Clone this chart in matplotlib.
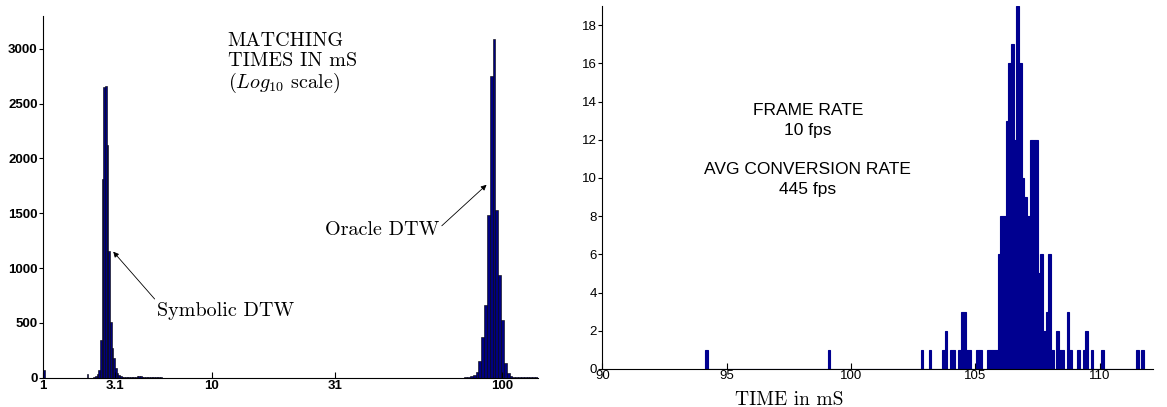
import numpy as np
import matplotlib
matplotlib.use('Agg')
import matplotlib.pyplot as plt

# ---- left panel: matching time histograms (counts per bin) ----
# symbolic DTW, bins spread evenly on the plotted axis between these times (mS)
sym_range = (1.0, 5.79)
sym_counts = [70, 0, 0, 0, 0, 0, 0, 0, 0, 0,
              0, 0, 0, 0, 0, 0, 0, 0, 0, 0,
              0, 0, 0, 0, 0, 0, 30, 0, 0, 0,
              10, 20, 30, 70, 344, 1815, 2650, 2664, 2125, 1160,
              512, 268, 177, 85, 40, 25, 15, 10,
              8, 6, 5, 5, 4, 4, 5, 8, 12, 15, 12, 8, 6, 5, 4, 4, 3, 3, 3, 2, 2, 2, 2, 1]
# oracle DTW
ora_range = (78.9, 124.1)
ora_counts = [5, 10, 15, 24, 55, 152, 375, 664, 1486, 2756, 3091, 1526, 938, 527,
              131, 40, 15, 10, 8, 6, 5, 4, 3, 3, 2, 2]
left_ticks = [1, 3.1, 10, 31, 100]
left_ticklabels = ['1', '3.1', '10', '31', '100']

# ---- right panel: frame conversion time histogram ----
rate_first = 94.2     # centre of first bin (mS)
rate_width = 0.1068   # bin width (mS)
rate_nonzero = {0: 1, 46: 1, 81: 1, 84: 1, 89: 1, 90: 2, 92: 1, 93: 1, 95: 1,
                96: 3, 97: 3, 98: 1, 99: 1, 102: 1, 103: 1, 106: 1, 107: 1,
                108: 1, 109: 1, 110: 6, 111: 8, 112: 8, 113: 13, 114: 16,
                115: 17, 116: 12, 117: 19, 118: 16, 119: 10, 120: 9, 121: 8,
                122: 12, 123: 12, 124: 12, 125: 5, 126: 6, 127: 2, 128: 3,
                129: 6, 130: 1, 132: 2, 133: 1, 134: 1, 136: 3, 137: 1,
                140: 1, 142: 1, 143: 2, 145: 1, 149: 1, 162: 1, 164: 1}
rate_nbins = 165

POW = 0.235


def fwd(t):
    return np.power(np.clip(t, 1e-9, None), POW)


def inv(u):
    return np.power(np.clip(u, 1e-9, None), 1.0 / POW)


def even_edges(lo, hi, n):
    return inv(np.linspace(fwd(lo), fwd(hi), n + 1))


fig = plt.figure(figsize=(11.67, 4.07), dpi=100)
tick_font = ['Liberation Sans', 'DejaVu Sans']
plt.rcParams['mathtext.fontset'] = 'cm'

# left panel
ax1 = fig.add_axes([0.0371, 0.072, 0.4239, 0.8887])
ax1.set_xscale('function', functions=(fwd, inv))
for rng, cnt in [(sym_range, sym_counts), (ora_range, ora_counts)]:
    edges = even_edges(rng[0], rng[1], len(cnt))
    ax1.bar(edges[:-1], cnt, width=np.diff(edges), align='edge',
            color='#000080', edgecolor='black', linewidth=0.4)
ax1.set_xlim(1, 124.2)
ax1.set_ylim(0, 3300)
ax1.set_xticks(left_ticks)
ax1.set_xticklabels(left_ticklabels)
ax1.set_yticks(range(0, 3001, 500))
ax1.xaxis.set_minor_locator(matplotlib.ticker.NullLocator())
for lab in ax1.get_xticklabels() + ax1.get_yticklabels():
    lab.set_fontfamily(tick_font)
    lab.set_fontweight('bold')
    lab.set_fontsize(9.5)
ax1.tick_params(axis='x', direction='in', length=4, pad=2)
ax1.tick_params(axis='y', direction='out', length=3, pad=1)
ax1.spines['top'].set_visible(False)
ax1.spines['right'].set_visible(False)

serif = dict(fontfamily='cmr10', fontsize=14.5)
ax1.text(0.373, 0.955, 'MATCHING\nTIMES IN mS\n($Log_{10}$ scale)',
         transform=ax1.transAxes, ha='left', va='top', linespacing=1.1, **serif)
ax1.annotate('Symbolic DTW', xy=(3.03, 1150), xytext=(0.23, 0.185),
             textcoords='axes fraction', ha='left', va='center',
             arrowprops=dict(arrowstyle='-|>', color='black', lw=0.6,
                             mutation_scale=8, relpos=(0, 1), shrinkA=0, shrinkB=0),
             **serif)
ax1.annotate('Oracle DTW', xy=(91, 1760), xytext=(0.569, 0.408),
             textcoords='axes fraction', ha='left', va='center',
             arrowprops=dict(arrowstyle='-|>', color='black', lw=0.6,
                             mutation_scale=8, relpos=(1, 0.6), shrinkA=0, shrinkB=0),
             **serif)

# right panel
rate_counts = np.zeros(rate_nbins)
for k, v in rate_nonzero.items():
    rate_counts[k] = v
rate_centres = rate_first + rate_width * np.arange(rate_nbins)
ax2 = fig.add_axes([0.5161, 0.0934, 0.4722, 0.8919])
ax2.bar(rate_centres, rate_counts, width=rate_width, color='#000090',
        edgecolor='#000090', linewidth=0.8)
ax2.set_xlim(90, 112.15)
ax2.set_ylim(0, 19)
ax2.set_xticks([90, 95, 100, 105, 110])
ax2.set_yticks(range(0, 19, 2))
for lab in ax2.get_xticklabels() + ax2.get_yticklabels():
    lab.set_fontfamily(tick_font)
    lab.set_fontsize(9.5)
ax2.tick_params(axis='x', direction='in', length=4, pad=1)
ax2.tick_params(axis='y', direction='out', length=3, pad=1)
ax2.spines['top'].set_visible(False)
ax2.spines['right'].set_visible(False)
ax2.text(0.373, 0.603, 'FRAME RATE\n10 fps\n\nAVG CONVERSION RATE\n445 fps',
         transform=ax2.transAxes, ha='center', va='center', linespacing=1.38,
         fontfamily=tick_font, fontsize=12.5)
ax2.set_xlabel('TIME in mS', fontfamily='cmr10', fontsize=14)
ax2.xaxis.set_label_coords(0.339, -0.06)

fig.savefig('out.png', dpi=100)
